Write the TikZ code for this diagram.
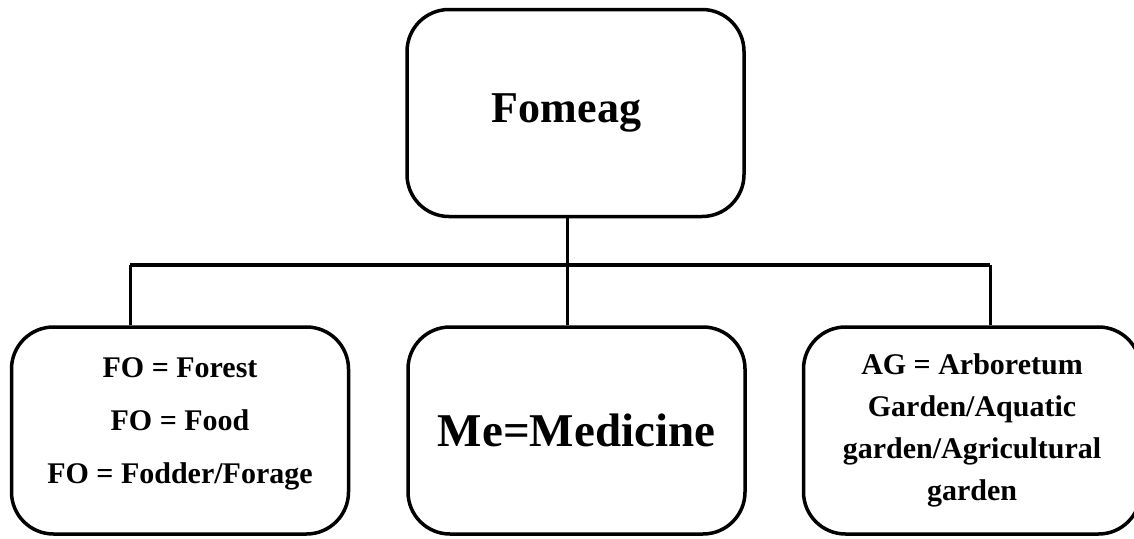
\documentclass[tikz,border=0pt]{standalone}
\usepackage{fontspec}
\setmainfont{Liberation Serif}
\usepackage{tikz}
\usetikzlibrary{positioning, calc}

\begin{document}
\begin{tikzpicture}[
          x=1pt, y=-1pt,
          box/.style={draw, line width=3.5pt, rounded corners=42pt, minimum width=337pt,
            minimum height=207pt, align=center, font=\bfseries\fontsize{30}{53}\selectfont},
          link/.style={line width=3pt}
        ]
          \useasboundingbox (0,0) rectangle (1134,538);
          \node[box, font=\bfseries\fontsize{44}{50}\selectfont] (fomeag) at (575.5,113) {Fomeag\hspace*{18pt}};
          \node[box, text depth=19pt] (fo) at (180,430.5) {FO = Forest\\FO = Food\\FO = Fodder/Forage};
          \node[box, font=\bfseries\fontsize{47}{50}\selectfont] (me) at (576.5,430.5) {Me=Medicine};
          \node[box, font=\bfseries\fontsize{30}{42}\selectfont] (ag) at (972,430.5)
            {AG = Arboretum\\Garden/Aquatic\\garden/Agricultural\\garden};
          % fork
          \coordinate (forkl) at (130,265);
          \coordinate (forkm) at (567,265);
          \coordinate (forkr) at (990,265);
          \draw[link] (forkm |- fomeag.south) -- (forkm |- me.north);
          \draw[line width=4.5pt] (forkl) -- (forkr);
          \draw[link] (forkl) -- (forkl |- fo.north);
          \draw[link] (forkr) -- (forkr |- ag.north);
        \end{tikzpicture}
\end{document}
